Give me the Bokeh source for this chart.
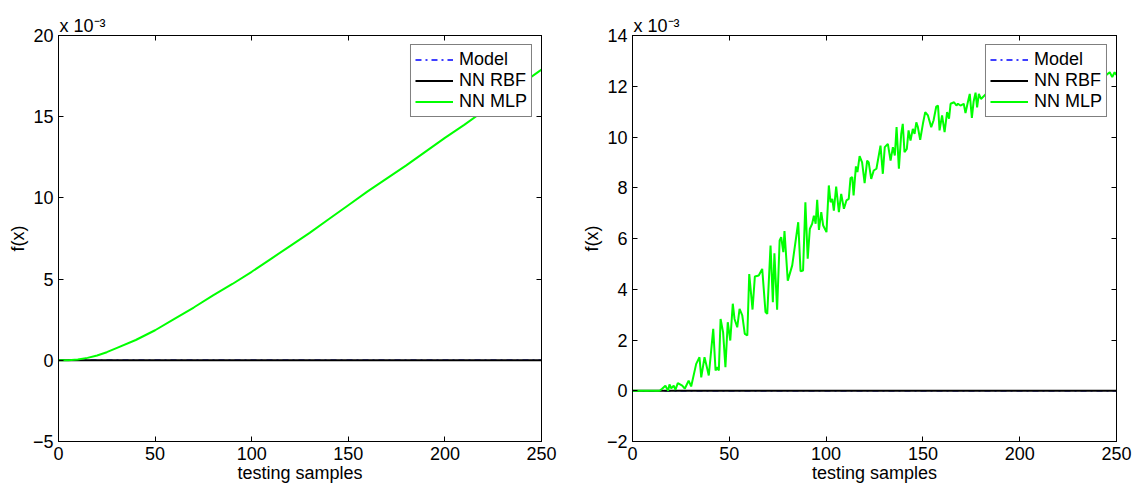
from bokeh.plotting import figure
from bokeh.models import Range1d, FixedTicker, LinearAxis, Title
from bokeh.layouts import row
from bokeh.embed import file_html
from bokeh.resources import INLINE

FONT = "Liberation Sans"

# ---------------- data (values in units of 1e-3) ----------------
x_ticks = [0, 50, 100, 150, 200, 250]
left_y_ticks = [-5, 0, 5, 10, 15, 20]
right_y_ticks = [-2, 0, 2, 4, 6, 8, 10, 12, 14]

zero_x = [0, 250]
model_y = [0, 0]
rbf_y = [0, 0]

# left panel: NN MLP
left_mlp_x = [0, 5, 10, 15, 20, 25, 30, 40, 50, 60, 70, 80, 90, 100, 110, 120,
              130, 140, 150, 160, 170, 180, 190, 200, 210, 220, 230, 240, 250]
left_mlp_y = [0.0, 0.0, 0.05, 0.15, 0.3, 0.5, 0.75, 1.25, 1.85, 2.55, 3.25, 4.0,
              4.7, 5.45, 6.25, 7.05, 7.85, 8.7, 9.55, 10.4, 11.2, 12.0, 12.85,
              13.7, 14.5, 15.35, 16.2, 17.05, 17.9]

# right panel: NN MLP (noisy)
right_mlp_x = [0, 14, 15.3, 17, 18.4, 19.1, 20, 21.3, 22.2, 23.4, 25.7, 27, 29, 30.3,
               32.9, 34.6, 35.5, 37.2, 38.2, 39.4, 41.7, 42.9, 43.8, 44.6, 45.5, 46.8,
               48, 49.2, 50.5, 51.8, 52.7, 54.1, 55.3, 56.7, 58, 59.3, 60.3, 62.0,
               63.2, 65.2, 67, 68.7, 69.6, 71.3, 72.5, 73.3, 74.7, 76, 76.8, 77.9,
               78.5, 80.2, 82.5, 85.6, 86.8, 88.1, 89.3, 90.5, 91.6, 92.8, 93.7, 94.6,
               95.4, 96.3, 97.5, 98.5, 100.2, 101.4, 102.3, 103.2, 104, 105.2, 106.6,
               107.8, 109.2, 110.5, 111.7, 112.6, 113.5, 114.2, 115.4, 116.2, 117.3,
               118.6, 119.9, 121.2, 122, 123.3, 124.6, 126, 128.1, 129.3, 130.3, 131.9,
               133.3, 134.5, 135.5, 136.4, 137.6, 138.8, 139.6, 140.5, 141.7, 142.6,
               143.6, 144.8, 145.7, 146.6, 147.4, 148.6, 150, 151.2, 152.6, 154.3,
               155.5, 156.9, 157.8, 158.6, 159.9, 161.2, 162.5, 163.5, 164.3, 166.1,
               167.3, 168.1, 169.4, 171.1, 172, 173.2, 174.2, 175.3, 176.2, 177.2,
               178, 178.9, 180, 184, 190, 196, 202, 208, 214, 220, 226, 232, 238, 244,
               246.5, 247.8, 249, 250]
right_mlp_y = [0, 0, 0.08, 0.2, 0.0, 0.25, 0.1, 0.2, 0.04, 0.3, 0.2, 0.08, 0.4, 0.17,
               1.06, 1.32, 0.53, 1.32, 1.0, 0.6, 2.44, 0.8, 0.93, 0.8, 2.83, 2.3,
               0.93, 2.7, 1.98, 3.43, 2.83, 2.5, 3.23, 2.97, 2.24, 2.18, 4.6, 3.2,
               4.5, 4.54, 4.8, 3.1, 3.03, 5.72, 3.49, 5.42, 3.19, 5.92, 6.05, 5.46,
               6.29, 4.34, 4.94, 6.64, 4.71, 4.74, 7.43, 5.2, 6.38, 6.58, 6.9, 6.58,
               7.52, 6.34, 7.04, 6.51, 6.25, 8.09, 7.43, 7.56, 7.1, 8.05, 7.04,
               7.76, 7.17, 7.5, 7.56, 8.38, 8.42, 7.7, 8.84, 8.62, 9.25,
               9.0, 8.18, 9.07, 9.0, 8.35, 8.68, 8.75, 9.66, 8.55, 9.6, 9.73,
               9.07, 9.6, 9.27, 10.39, 8.75, 10.12, 10.52, 9.4, 9.53, 10.26,
               9.86, 10.32, 10.12, 10.58, 10.39, 9.89, 10.52, 10.98, 10.85, 10.39,
               10.65, 11.2, 11.24, 10.26, 10.85, 10.19, 10.98, 10.72, 11.31, 11.37,
               11.24, 11.31, 11.24, 11.31, 10.94, 11.37, 11.7, 10.75, 11.4, 11.75,
               11.17, 11.7, 11.5, 11.8, 11.6, 12.0, 11.8, 12.1, 11.9, 12.2, 12.0, 12.3, 12.1, 12.4,
               12.55, 12.36, 12.55, 12.45]

x_label = "testing samples"
y_label = "f(x)"
scale_label = "x 10\u207b\u00b3"
legend_names = ["Model", "NN RBF", "NN MLP"]


def style_axis(ax, ticks, show_labels=True):
    ax.ticker = FixedTicker(ticks=ticks)
    ax.major_tick_in = 5
    ax.major_tick_out = 0
    ax.minor_tick_line_color = None
    ax.axis_line_color = "black"
    ax.major_tick_line_color = "black"
    ax.major_label_text_font = FONT
    if show_labels:
        ax.major_label_text_color = "black"
        ax.major_label_text_font_size = "18px"
        ax.major_label_standoff = 5
    else:
        ax.major_label_text_color = None
        ax.major_label_text_font_size = "1px"
        ax.major_label_standoff = 0


def make_fig(width, bl, br, yr, yticks, mlp_x, mlp_y):
    p = figure(width=width, height=488, x_range=Range1d(0, 250),
               y_range=Range1d(yr[0], yr[1]), output_backend="svg",
               toolbar_location=None, min_border_left=bl, min_border_right=br,
               min_border_top=35, min_border_bottom=47)
    p.grid.visible = False
    p.outline_line_color = "black"
    p.background_fill_color = "white"
    p.border_fill_color = "white"

    style_axis(p.xaxis[0], x_ticks)
    p.xaxis[0].axis_label = x_label
    p.xaxis[0].axis_label_text_font = FONT
    p.xaxis[0].axis_label_text_font_size = "18px"
    p.xaxis[0].axis_label_text_font_style = "normal"
    p.xaxis[0].axis_label_text_color = "black"
    p.xaxis[0].axis_label_standoff = 0

    style_axis(p.yaxis[0], yticks)
    p.yaxis[0].major_label_overrides = {t: ("\u2212" + str(-t)) for t in yticks if t < 0}
    p.yaxis[0].axis_label = y_label
    p.yaxis[0].axis_label_text_font = FONT
    p.yaxis[0].axis_label_text_font_size = "18px"
    p.yaxis[0].axis_label_text_font_style = "normal"
    p.yaxis[0].axis_label_text_color = "black"
    p.yaxis[0].axis_label_standoff = 2

    top = LinearAxis()
    style_axis(top, x_ticks, show_labels=False)
    p.add_layout(top, "above")
    right = LinearAxis()
    style_axis(right, yticks, show_labels=False)
    p.add_layout(right, "right")

    p.add_layout(Title(text=scale_label, align="left", offset=1, standoff=0,
                       text_font=FONT, text_font_size="18px",
                       text_font_style="normal", text_color="black"), "above")

    p.line(zero_x, model_y, color="#0000FF", line_width=1.5, line_dash="dashdot",
           legend_label=legend_names[0])
    p.line(zero_x, rbf_y, color="black", line_width=2, legend_label=legend_names[1])
    p.line(mlp_x, mlp_y, color="#00FF00", line_width=2, legend_label=legend_names[2])

    lg = p.legend[0]
    lg.location = "top_right"
    lg.margin = 9
    lg.padding = 4
    lg.spacing = 0
    lg.label_height = 21
    lg.glyph_height = 21
    lg.glyph_width = 38
    lg.label_standoff = 6
    lg.label_text_font = FONT
    lg.label_text_font_size = "18px"
    lg.label_text_color = "black"
    lg.border_line_color = "black"
    lg.border_line_width = 1
    lg.background_fill_alpha = 1
    return p


p1 = make_fig(569, 58, 28, (-5, 20), left_y_ticks, left_mlp_x, left_mlp_y)
p2 = make_fig(569, 63, 22, (-2, 14), right_y_ticks, right_mlp_x, right_mlp_y)

layout = row(p1, p2)
open("out.html", "w").write(file_html(layout, INLINE))
